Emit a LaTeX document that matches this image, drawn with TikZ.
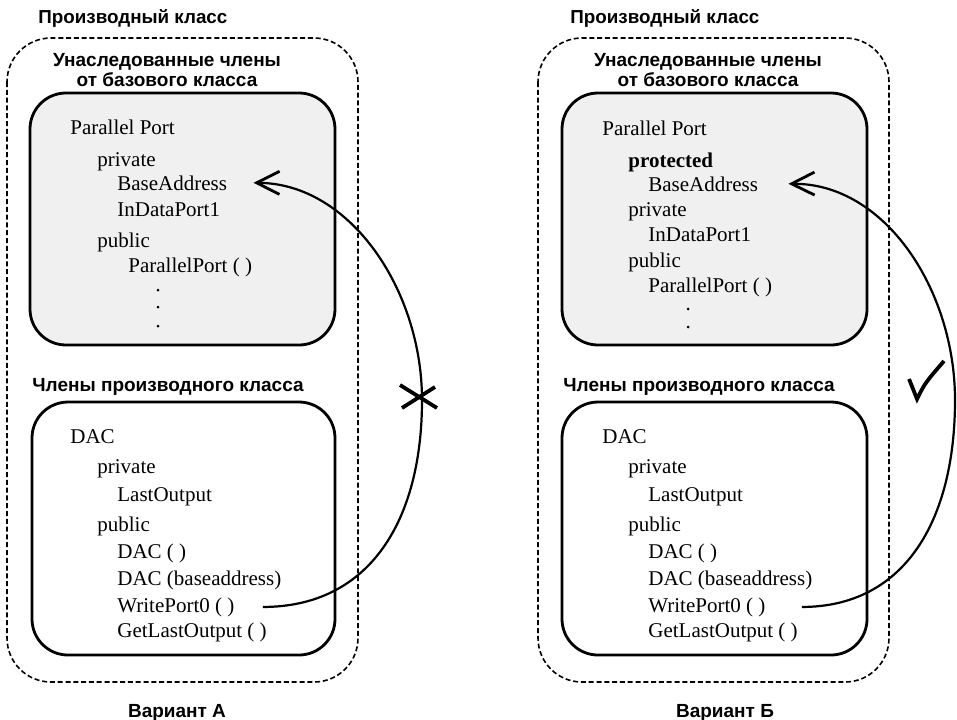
\documentclass[tikz,border=0pt]{standalone}
\usepackage{fontspec}
\setmainfont{Liberation Serif}
\newfontfamily\headfont{Liberation Sans}
\usetikzlibrary{arrows.meta}

\tikzset{
  frame/.style={dash pattern=on 2.5pt off 1.4pt,line width=0.8pt,rounded corners=22pt},
  basebox/.style={line width=1.4pt,rounded corners=18pt,fill=gray!12},
  ownbox/.style={line width=1.4pt,rounded corners=18pt},
  heading/.style={anchor=base,inner sep=0pt,font=\headfont\bfseries\fontsize{9.5}{11}\selectfont},
  title/.style={anchor=base west,inner sep=0pt,font=\headfont\bfseries\fontsize{9.4}{11}\selectfont},
  mem/.style={anchor=base west,inner sep=0pt,font=\fontsize{10.5}{12}\selectfont},
  vdot/.style={circle,fill,inner sep=0pt,minimum size=1.5pt},
  link/.style={line width=1.1pt,-{Straight Barb[length=11.5pt,width=11.5pt,line width=1.4pt]}},
  sign/.style={line width=1.9pt}
}

\begin{document}
\begin{tikzpicture}[x=0.5pt,y=-0.5pt]
\useasboundingbox (0,0) rectangle (957,719);

% variant A
\node[title] (titleA) at (38,23) {Производный класс};
\draw[frame] (7,38) rectangle (358,682);
\node[heading] (inhA) at (167,66) {Унаследованные члены};
\node[heading] (inhA2) at (167,86) {от базового класса};
\draw[basebox] (30,93) rectangle (335,345);
\node[mem] (ppA) at (70,134) {Parallel Port};
\node[mem] (privA) at (97,166) {private};
\node[mem] (baA) at (117,190) {BaseAddress};
\node[mem] (idpA) at (117,216) {InDataPort1};
\node[mem] (pubA) at (97,247) {public};
\node[mem] (ctorA) at (128,272) {ParallelPort ( )};
\foreach \y/\n in {290/1,307/2,326/3}
  \node[vdot] (dotA\n) at (158,\y) {};

\node[heading] (ownA) at (168,391) {Члены производного класса};
\draw[ownbox] (32,402) rectangle (335,655);
\node[mem] (dacA) at (70,443) {DAC};
\node[mem] (lprivA) at (97,473) {private};
\node[mem] (loA) at (117,501) {LastOutput};
\node[mem] (lpubA) at (97,531) {public};
\node[mem] (dc1A) at (117,558) {DAC ( )};
\node[mem] (dc2A) at (117,585) {DAC (baseaddress)};
\node[mem] (wpA) at (117,612) {WritePort0 ( )};
\node[mem] (gloA) at (117,637) {GetLastOutput ( )};
\node[heading] (varA) at (177,717) {Вариант А};

\draw[link] ([xshift=14pt]wpA.east) .. controls (370,607) and (422,520) .. (422,400)
  .. controls (422,290) and (350,183) .. ([xshift=13pt]baA.east);
\draw[sign] (400,385) -- (437,408) (402,408) -- (435,387);

% variant B
\node[title] (titleB) at (570,23) {Производный класс};
\draw[frame] (538,38) rectangle (889,682);
\node[heading] (inhB) at (708,66) {Унаследованные члены};
\node[heading] (inhB2) at (708,86) {от базового класса};
\draw[basebox] (562,93) rectangle (867,345);
\node[mem] (ppB) at (602,135) {Parallel Port};
\node[mem,font=\fontsize{10.5}{12}\selectfont\bfseries] (protB) at (628,167) {protected};
\node[mem] (baB) at (648,191) {BaseAddress};
\node[mem] (privB) at (628,216) {private};
\node[mem] (idpB) at (648,241) {InDataPort1};
\node[mem] (pubB) at (628,267) {public};
\node[mem] (ctorB) at (648,292) {ParallelPort ( )};
\foreach \y/\n in {309/1,327/2}
  \node[vdot] (dotB\n) at (688,\y) {};

\node[heading] (ownB) at (699,391) {Члены производного класса};
\draw[ownbox] (562,402) rectangle (867,655);
\node[mem] (dacB) at (602,443) {DAC};
\node[mem] (lprivB) at (628,473) {private};
\node[mem] (loB) at (648,501) {LastOutput};
\node[mem] (lpubB) at (628,531) {public};
\node[mem] (dc1B) at (648,558) {DAC ( )};
\node[mem] (dc2B) at (648,585) {DAC (baseaddress)};
\node[mem] (wpB) at (648,612) {WritePort0 ( )};
\node[mem] (gloB) at (648,637) {GetLastOutput ( )};
\node[heading] (varB) at (725,717) {Вариант Б};

\draw[link] ([xshift=18pt]wpB.east) .. controls (905,607) and (955,520) .. (955,400)
  .. controls (955,290) and (885,183) .. ([xshift=15pt]baB.east);
\draw[sign] (909,379) -- (917,399) .. controls (925,383) .. (944,361);

\end{tikzpicture}
\end{document}
